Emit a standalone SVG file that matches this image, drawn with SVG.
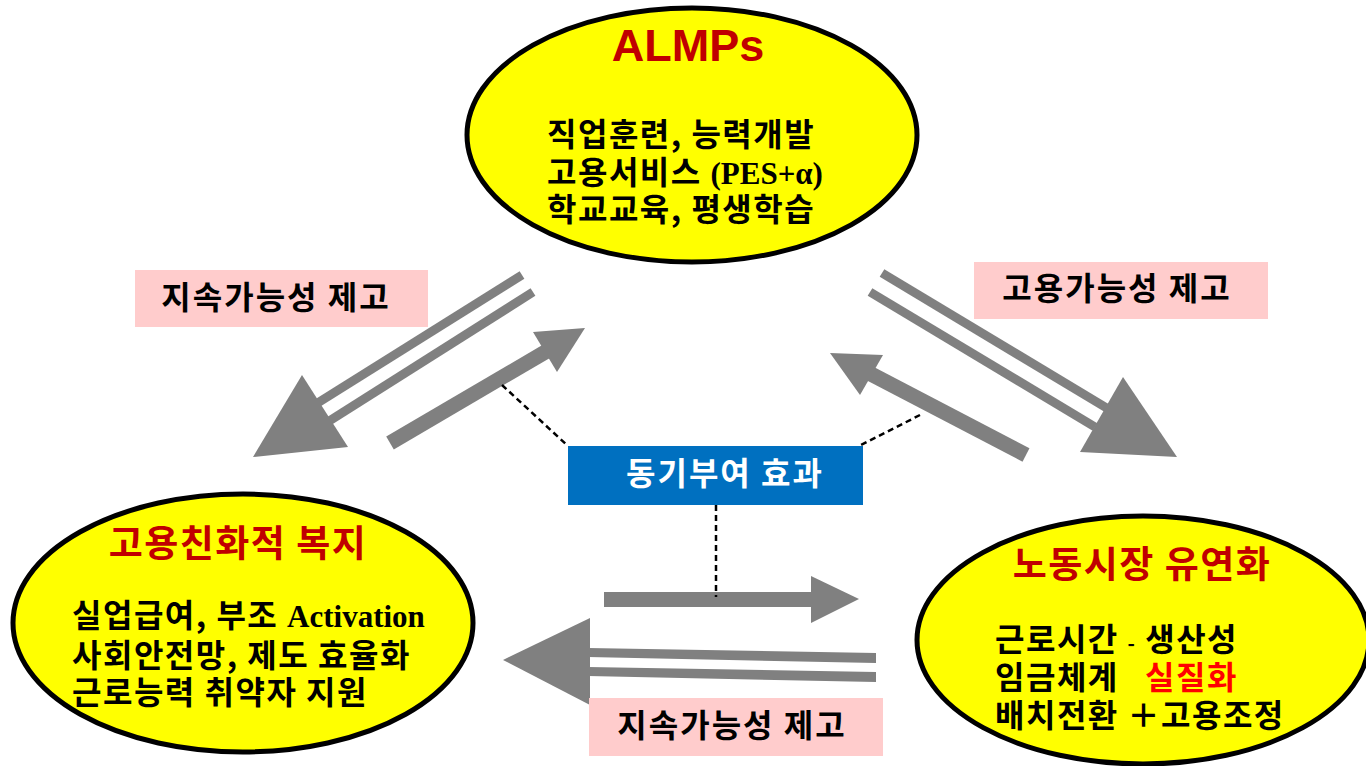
<svg xmlns="http://www.w3.org/2000/svg" width="1366" height="766" viewBox="0 0 1366 766">
  <style>
    .ell { fill: #FFFF00; stroke: #000000; stroke-width: 5; }
    .ttl { font-family: "Noto Sans CJK KR", sans-serif; font-weight: bold; fill: #C00000; text-anchor: middle; font-size: 37px; letter-spacing: 1.5px; }
    .body { font-family: "Noto Sans CJK KR", sans-serif; font-weight: bold; fill: #000000; font-size: 32px; letter-spacing: 1.5px; }
    .ser { font-family: "Liberation Serif", serif; font-weight: bold; letter-spacing: 0; }
    .lbl { fill: #FFCCCC; }
    .lbltxt { font-family: "Noto Sans CJK KR", sans-serif; font-weight: bold; font-size: 32px; letter-spacing: 2px; fill: #000000; text-anchor: middle; }
    .arr { fill: #808080; }
    .dash { stroke: #000000; stroke-width: 2.5; stroke-dasharray: 6 4; fill: none; }
  </style>

  <rect width="1366" height="766" fill="#FFFFFF"/>

  <!-- connectors -->
  <g id="connectors">
    <!-- ALMPs -> welfare (double line) -->
    <line x1="522" y1="275" x2="300" y2="414" stroke="#808080" stroke-width="9"/>
    <line x1="533" y1="292" x2="315" y2="430" stroke="#808080" stroke-width="9"/>
    <polygon class="arr" points="253,457 302,375 348,447"/>
    <!-- welfare -> ALMPs (single thick) -->
    <line x1="390" y1="443" x2="547" y2="351" stroke="#808080" stroke-width="15"/>
    <polygon class="arr" points="585,328 533,332 557,372"/>

    <!-- ALMPs -> flexibility (double line) -->
    <line x1="882" y1="273" x2="1110" y2="410" stroke="#808080" stroke-width="9"/>
    <line x1="870" y1="292" x2="1095" y2="427" stroke="#808080" stroke-width="9"/>
    <polygon class="arr" points="1177,457 1123,377 1080,452"/>
    <!-- flexibility -> ALMPs (single thick) -->
    <line x1="1026" y1="455" x2="869" y2="373" stroke="#808080" stroke-width="15"/>
    <polygon class="arr" points="830,353 883,355 860,395"/>

    <!-- welfare -> flexibility (single) -->
    <rect class="arr" x="604" y="592" width="210" height="15"/>
    <polygon class="arr" points="859,599 811,576 811,623"/>
    <!-- flexibility -> welfare (double line) -->
    <polygon class="arr" points="588,648 876,653 876,663 588,657"/>
    <polygon class="arr" points="588,667 876,672 876,682 588,676"/>
    <polygon class="arr" points="503,660 590,618 590,705"/>

    <!-- motivation links -->
    <line class="dash" x1="502" y1="385" x2="568" y2="446"/>
    <line class="dash" x1="920" y1="415" x2="859" y2="446"/>
    <line class="dash" x1="716" y1="505" x2="716" y2="597"/>
  </g>

  <!-- ALMPs node -->
  <g id="almps">
    <ellipse class="ell" cx="692" cy="135" rx="225" ry="127"/>
    <text x="688" y="61" font-family="Liberation Sans, Arial, sans-serif" font-weight="bold" font-size="45" fill="#C00000" text-anchor="middle">ALMPs</text>
    <text class="body" x="547" y="146">직업훈련, 능력개발</text>
    <text class="body" x="547" y="184">고용서비스 <tspan class="ser" font-size="31">(PES+α)</tspan></text>
    <text class="body" x="547" y="221">학교교육, 평생학습</text>
  </g>

  <!-- employment-friendly welfare node -->
  <g id="welfare">
    <ellipse class="ell" cx="243" cy="623" rx="230" ry="129"/>
    <text class="ttl" x="238" y="557">고용친화적 복지</text>
    <text class="body" x="72" y="627">실업급여, 부조 <tspan class="ser" font-size="31">Activation</tspan></text>
    <text class="body" x="72" y="667">사회안전망, 제도 효율화</text>
    <text class="body" x="72" y="704">근로능력 취약자 지원</text>
  </g>

  <!-- labour market flexibility node -->
  <g id="flexibility">
    <ellipse class="ell" cx="1143" cy="640" rx="226" ry="124"/>
    <text class="ttl" x="1142" y="578">노동시장 유연화</text>
    <text class="body" x="995" y="651">근로시간 <tspan font-size="20">-</tspan> 생산성</text>
    <text class="body" x="995" y="689">임금체계 <tspan x="1145" fill="#FF0000">실질화</tspan></text>
    <text class="body" x="995" y="727">배치전환 ＋고용조정</text>
  </g>

  <!-- labels -->
  <g id="label-left">
    <rect class="lbl" x="135" y="270" width="293" height="57"/>
    <text class="lbltxt" x="276" y="309">지속가능성 제고</text>
  </g>
  <g id="label-right">
    <rect class="lbl" x="974" y="262" width="294" height="57"/>
    <text class="lbltxt" x="1117" y="300">고용가능성 제고</text>
  </g>
  <g id="label-bottom">
    <rect class="lbl" x="589" y="698" width="294" height="58"/>
    <text class="lbltxt" x="732" y="737">지속가능성 제고</text>
  </g>

  <g id="motivation">
    <rect x="568" y="446" width="295" height="59" fill="#0070C0"/>
    <text x="725" y="485" font-family="Noto Sans CJK KR, sans-serif" font-weight="bold" font-size="32" letter-spacing="2" fill="#FFFFFF" text-anchor="middle">동기부여 효과</text>
  </g>
</svg>
